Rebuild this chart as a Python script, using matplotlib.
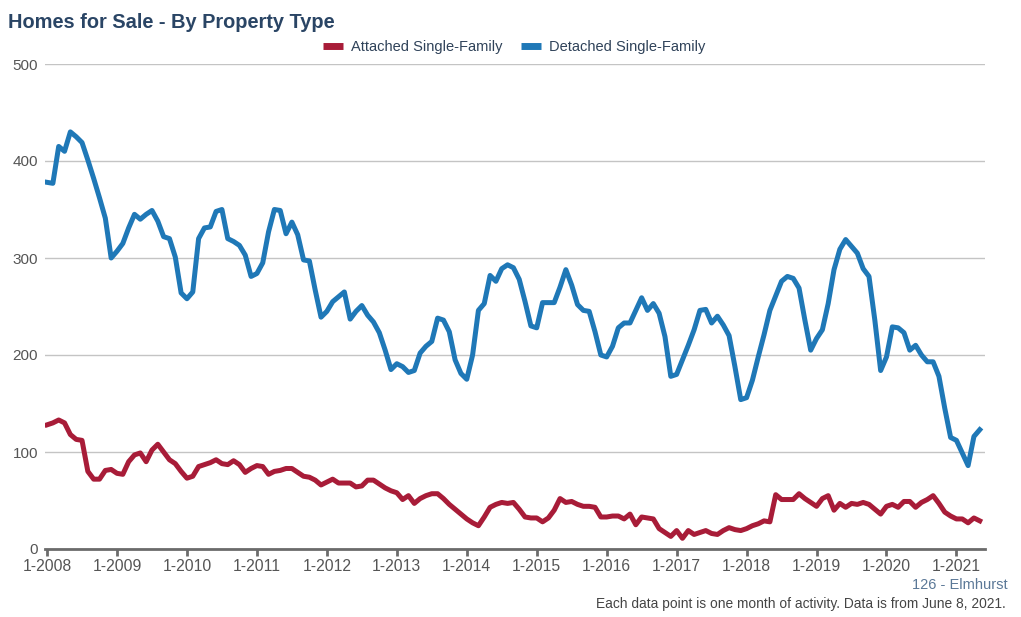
import numpy as np
import matplotlib
matplotlib.use("Agg")
import matplotlib.pyplot as plt

plt.rcParams['font.family'] = ['Liberation Sans', 'DejaVu Sans']

# monthly values, Jan 2008 .. May 2021
detached = [
    378, 377, 415, 410, 430, 425, 419, 401, 382, 362, 341, 300,
    307, 315, 331, 345, 340, 345, 349, 338, 322, 320, 301, 264,
    258, 265, 320, 331, 332, 348, 350, 320, 317, 313, 303, 281,
    284, 295, 327, 350, 349, 325, 337, 324, 298, 297, 267, 239,
    245, 255, 260, 265, 237, 245, 251, 241, 234, 223, 205, 185,
    191, 188, 182, 184, 202, 209, 214, 238, 236, 224, 195, 181,
    175, 200, 246, 253, 282, 276, 289, 293, 290, 278, 255, 230,
    228, 254, 254, 254, 270, 288, 272, 252, 246, 245, 224, 200,
    198, 209, 228, 233, 233, 246, 259, 246, 253, 243, 219, 178,
    180, 195, 210, 226, 246, 247, 233, 240, 231, 220, 188, 154,
    156, 174, 198, 221, 246, 261, 276, 281, 279, 269, 236, 205,
    217, 226, 253, 288, 309, 319, 312, 305, 289, 281, 236, 184,
    198, 229, 228, 223, 205, 210, 200, 193, 193, 178, 145, 115,
    112, 99, 86, 116, 123,
]
attached = [
    128, 130, 133, 130, 118, 113, 112, 80, 72, 72, 81, 82,
    78, 77, 90, 97, 99, 90, 102, 108, 100, 92, 88, 80,
    73, 75, 85, 87, 89, 92, 88, 87, 91, 87, 79, 83,
    86, 85, 77, 80, 81, 83, 83, 79, 75, 74, 71, 66,
    69, 72, 68, 68, 68, 64, 65, 71, 71, 67, 63, 60,
    58, 51, 55, 47, 52, 55, 57, 57, 52, 46, 41, 36,
    31, 27, 24, 33, 43, 46, 48, 47, 48, 41, 33, 32,
    32, 28, 32, 40, 52, 48, 49, 46, 44, 44, 43, 33,
    33, 34, 34, 31, 36, 25, 33, 32, 31, 21, 17, 13,
    19, 11, 19, 15, 17, 19, 16, 15, 19, 22, 20, 19,
    21, 24, 26, 29, 28, 56, 51, 51, 51, 57, 52, 48,
    44, 52, 55, 40, 47, 43, 47, 46, 48, 46, 41, 36,
    44, 46, 43, 49, 49, 43, 48, 51, 55, 47, 38, 34,
    31, 31, 27, 32, 29,
]
years = list(range(2008, 2022))
tick_labels = ["1-%d" % y for y in years]

x = np.arange(len(detached))

fig = plt.figure(figsize=(10.21, 6.17), dpi=100)
ax = fig.add_axes([45 / 1021, 1 - 549 / 617, 940 / 1021, 485 / 617])

ax.plot(x, attached, color='#a81c38', lw=3.6, solid_joinstyle='round',
        label='Attached Single-Family', zorder=3)
ax.plot(x, detached, color='#1f78b7', lw=3.6, solid_joinstyle='round',
        label='Detached Single-Family', zorder=3)

ax.set_xlim(-0.35, 160.9)
ax.set_ylim(0, 500)
ax.set_yticks([0, 100, 200, 300, 400, 500])
ax.set_xticks(np.arange(len(years)) * 12)
ax.set_xticklabels(tick_labels)

ax.grid(axis='y', color='#c4c4c4', lw=1)
ax.set_axisbelow(True)
for s in ['top', 'right', 'left']:
    ax.spines[s].set_visible(False)
ax.spines['bottom'].set_color('#6b6b6b')
ax.spines['bottom'].set_linewidth(2)
ax.spines['bottom'].set_zorder(4)
ax.tick_params(axis='y', length=0, pad=5, labelsize=11, labelcolor='#555555')
ax.tick_params(axis='x', length=5, width=2, color='#6b6b6b', pad=2,
               labelsize=11.3, labelcolor='#555555')

fig.text(8 / 1021, 1 - 23 / 617, 'Homes for Sale - By Property Type',
         fontsize=14.4, fontweight='bold', color='#2a4565', va='center', ha='left')

leg = fig.legend(loc='center', bbox_to_anchor=(514 / 1021, 1 - 47 / 617), ncol=2,
                 frameon=False, fontsize=10.5, handlelength=1.4, handletextpad=0.5,
                 columnspacing=1.3)
for t in leg.get_texts():
    t.set_color('#2f4259')
for h in leg.legend_handles:
    h.set_linewidth(5)
    h.set_solid_capstyle('butt')

fig.text(1008 / 1021, 1 - 585 / 617, '126 - Elmhurst', fontsize=10.5,
         color='#5b7897', ha='right', va='center')
fig.text(1006 / 1021, 1 - 604 / 617,
         'Each data point is one month of activity. Data is from June 8, 2021.',
         fontsize=9.9, color='#444444', ha='right', va='center')

fig.savefig('out.png', dpi=100)
